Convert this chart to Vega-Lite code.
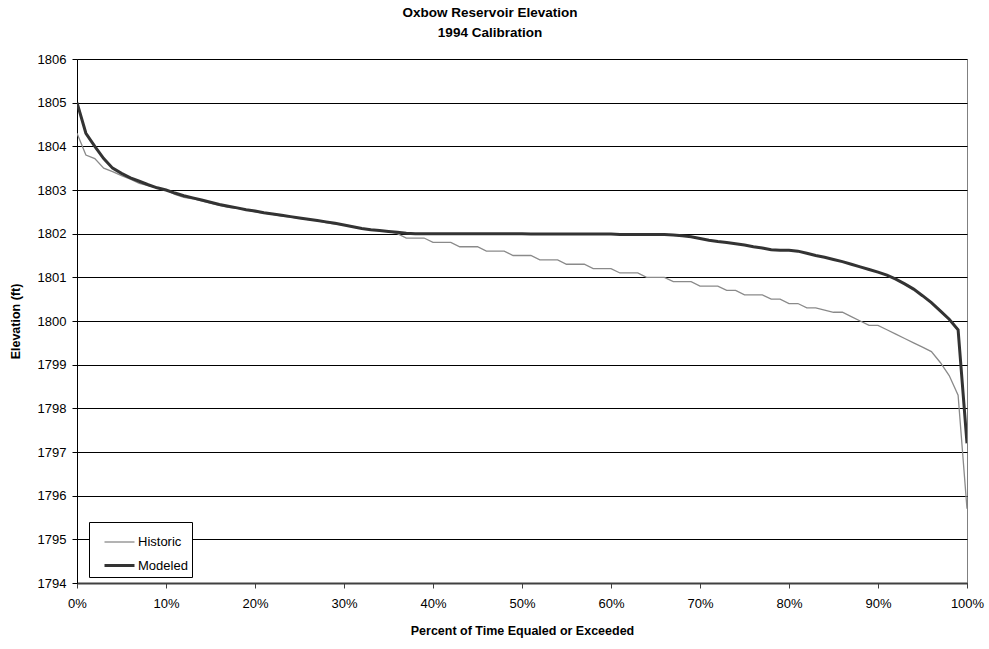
{
  "$schema": "https://vega.github.io/schema/vega-lite/v6.json",
  "width": 890,
  "height": 524,
  "autosize": {"type": "none"},
  "padding": {"left": 77, "top": 59, "right": 22, "bottom": 66},
  "background": "white",
  "title": {
    "text": ["Oxbow Reservoir Elevation", "1994 Calibration"],
    "font": "Liberation Sans",
    "fontSize": 13.5,
    "fontWeight": "bold",
    "color": "black",
    "anchor": "middle",
    "lineHeight": 20,
    "offset": 14,
    "dx": -32
  },
  "config": {
    "view": {"stroke": "#808080", "strokeWidth": 1},
    "axis": {
      "labelFont": "Liberation Sans",
      "titleFont": "Liberation Sans",
      "labelColor": "black",
      "titleColor": "black"
    },
    "legend": {
      "labelFont": "Liberation Sans",
      "labelFontSize": 13,
      "labelColor": "black"
    }
  },
  "data": {
    "values": [
      {"p":0,"s":"Historic","v":1804.3},{"p":1,"s":"Historic","v":1803.8},{"p":2,"s":"Historic","v":1803.72},{"p":3,"s":"Historic","v":1803.5},{"p":4,"s":"Historic","v":1803.42},{"p":5,"s":"Historic","v":1803.33},{"p":6,"s":"Historic","v":1803.25},{"p":7,"s":"Historic","v":1803.15},{"p":8,"s":"Historic","v":1803.1},{"p":9,"s":"Historic","v":1803.05},
      {"p":10,"s":"Historic","v":1803.0},{"p":11,"s":"Historic","v":1802.9},{"p":12,"s":"Historic","v":1802.83},{"p":13,"s":"Historic","v":1802.8},{"p":14,"s":"Historic","v":1802.75},{"p":15,"s":"Historic","v":1802.7},{"p":16,"s":"Historic","v":1802.65},{"p":17,"s":"Historic","v":1802.6},{"p":18,"s":"Historic","v":1802.58},{"p":19,"s":"Historic","v":1802.55},
      {"p":20,"s":"Historic","v":1802.5},{"p":21,"s":"Historic","v":1802.47},{"p":22,"s":"Historic","v":1802.44},{"p":23,"s":"Historic","v":1802.4},{"p":24,"s":"Historic","v":1802.38},{"p":25,"s":"Historic","v":1802.35},{"p":26,"s":"Historic","v":1802.32},{"p":27,"s":"Historic","v":1802.3},{"p":28,"s":"Historic","v":1802.25},{"p":29,"s":"Historic","v":1802.22},
      {"p":30,"s":"Historic","v":1802.2},{"p":31,"s":"Historic","v":1802.15},{"p":32,"s":"Historic","v":1802.12},{"p":33,"s":"Historic","v":1802.1},{"p":34,"s":"Historic","v":1802.07},{"p":35,"s":"Historic","v":1802.05},{"p":36,"s":"Historic","v":1802.0},{"p":37,"s":"Historic","v":1801.9},{"p":38,"s":"Historic","v":1801.9},{"p":39,"s":"Historic","v":1801.9},
      {"p":40,"s":"Historic","v":1801.8},{"p":41,"s":"Historic","v":1801.8},{"p":42,"s":"Historic","v":1801.8},{"p":43,"s":"Historic","v":1801.7},{"p":44,"s":"Historic","v":1801.7},{"p":45,"s":"Historic","v":1801.7},{"p":46,"s":"Historic","v":1801.6},{"p":47,"s":"Historic","v":1801.6},{"p":48,"s":"Historic","v":1801.6},{"p":49,"s":"Historic","v":1801.5},
      {"p":50,"s":"Historic","v":1801.5},{"p":51,"s":"Historic","v":1801.5},{"p":52,"s":"Historic","v":1801.4},{"p":53,"s":"Historic","v":1801.4},{"p":54,"s":"Historic","v":1801.4},{"p":55,"s":"Historic","v":1801.3},{"p":56,"s":"Historic","v":1801.3},{"p":57,"s":"Historic","v":1801.3},{"p":58,"s":"Historic","v":1801.2},{"p":59,"s":"Historic","v":1801.2},
      {"p":60,"s":"Historic","v":1801.2},{"p":61,"s":"Historic","v":1801.1},{"p":62,"s":"Historic","v":1801.1},{"p":63,"s":"Historic","v":1801.1},{"p":64,"s":"Historic","v":1801.0},{"p":65,"s":"Historic","v":1801.0},{"p":66,"s":"Historic","v":1801.0},{"p":67,"s":"Historic","v":1800.9},{"p":68,"s":"Historic","v":1800.9},{"p":69,"s":"Historic","v":1800.9},
      {"p":70,"s":"Historic","v":1800.8},{"p":71,"s":"Historic","v":1800.8},{"p":72,"s":"Historic","v":1800.8},{"p":73,"s":"Historic","v":1800.7},{"p":74,"s":"Historic","v":1800.7},{"p":75,"s":"Historic","v":1800.6},{"p":76,"s":"Historic","v":1800.6},{"p":77,"s":"Historic","v":1800.6},{"p":78,"s":"Historic","v":1800.5},{"p":79,"s":"Historic","v":1800.5},
      {"p":80,"s":"Historic","v":1800.4},{"p":81,"s":"Historic","v":1800.4},{"p":82,"s":"Historic","v":1800.3},{"p":83,"s":"Historic","v":1800.3},{"p":84,"s":"Historic","v":1800.25},{"p":85,"s":"Historic","v":1800.2},{"p":86,"s":"Historic","v":1800.2},{"p":87,"s":"Historic","v":1800.1},{"p":88,"s":"Historic","v":1800.0},{"p":89,"s":"Historic","v":1799.9},
      {"p":90,"s":"Historic","v":1799.9},{"p":91,"s":"Historic","v":1799.8},{"p":92,"s":"Historic","v":1799.7},{"p":93,"s":"Historic","v":1799.6},{"p":94,"s":"Historic","v":1799.5},{"p":95,"s":"Historic","v":1799.4},{"p":96,"s":"Historic","v":1799.3},{"p":97,"s":"Historic","v":1799.05},{"p":98,"s":"Historic","v":1798.75},{"p":99,"s":"Historic","v":1798.3},
      {"p":100,"s":"Historic","v":1795.7},
      {"p":0,"s":"Modeled","v":1805.0},{"p":1,"s":"Modeled","v":1804.3},{"p":2,"s":"Modeled","v":1804.0},{"p":3,"s":"Modeled","v":1803.72},{"p":4,"s":"Modeled","v":1803.5},{"p":5,"s":"Modeled","v":1803.38},{"p":6,"s":"Modeled","v":1803.28},{"p":7,"s":"Modeled","v":1803.2},{"p":8,"s":"Modeled","v":1803.12},{"p":9,"s":"Modeled","v":1803.05},
      {"p":10,"s":"Modeled","v":1803.0},{"p":11,"s":"Modeled","v":1802.93},{"p":12,"s":"Modeled","v":1802.87},{"p":13,"s":"Modeled","v":1802.82},{"p":14,"s":"Modeled","v":1802.77},{"p":15,"s":"Modeled","v":1802.72},{"p":16,"s":"Modeled","v":1802.67},{"p":17,"s":"Modeled","v":1802.63},{"p":18,"s":"Modeled","v":1802.59},{"p":19,"s":"Modeled","v":1802.55},
      {"p":20,"s":"Modeled","v":1802.52},{"p":21,"s":"Modeled","v":1802.48},{"p":22,"s":"Modeled","v":1802.45},{"p":23,"s":"Modeled","v":1802.42},{"p":24,"s":"Modeled","v":1802.39},{"p":25,"s":"Modeled","v":1802.36},{"p":26,"s":"Modeled","v":1802.33},{"p":27,"s":"Modeled","v":1802.3},{"p":28,"s":"Modeled","v":1802.27},{"p":29,"s":"Modeled","v":1802.24},
      {"p":30,"s":"Modeled","v":1802.2},{"p":31,"s":"Modeled","v":1802.16},{"p":32,"s":"Modeled","v":1802.12},{"p":33,"s":"Modeled","v":1802.09},{"p":34,"s":"Modeled","v":1802.07},{"p":35,"s":"Modeled","v":1802.05},{"p":36,"s":"Modeled","v":1802.03},{"p":37,"s":"Modeled","v":1802.01},{"p":38,"s":"Modeled","v":1802.0},{"p":39,"s":"Modeled","v":1802.0},
      {"p":40,"s":"Modeled","v":1802.0},{"p":41,"s":"Modeled","v":1802.0},{"p":42,"s":"Modeled","v":1802.0},{"p":43,"s":"Modeled","v":1802.0},{"p":44,"s":"Modeled","v":1802.0},{"p":45,"s":"Modeled","v":1802.0},{"p":46,"s":"Modeled","v":1802.0},{"p":47,"s":"Modeled","v":1802.0},{"p":48,"s":"Modeled","v":1802.0},{"p":49,"s":"Modeled","v":1802.0},
      {"p":50,"s":"Modeled","v":1802.0},{"p":51,"s":"Modeled","v":1801.99},{"p":52,"s":"Modeled","v":1801.99},{"p":53,"s":"Modeled","v":1801.99},{"p":54,"s":"Modeled","v":1801.99},{"p":55,"s":"Modeled","v":1801.99},{"p":56,"s":"Modeled","v":1801.99},{"p":57,"s":"Modeled","v":1801.99},{"p":58,"s":"Modeled","v":1801.99},{"p":59,"s":"Modeled","v":1801.99},
      {"p":60,"s":"Modeled","v":1801.99},{"p":61,"s":"Modeled","v":1801.98},{"p":62,"s":"Modeled","v":1801.98},{"p":63,"s":"Modeled","v":1801.98},{"p":64,"s":"Modeled","v":1801.98},{"p":65,"s":"Modeled","v":1801.98},{"p":66,"s":"Modeled","v":1801.98},{"p":67,"s":"Modeled","v":1801.97},{"p":68,"s":"Modeled","v":1801.95},{"p":69,"s":"Modeled","v":1801.93},
      {"p":70,"s":"Modeled","v":1801.89},{"p":71,"s":"Modeled","v":1801.85},{"p":72,"s":"Modeled","v":1801.82},{"p":73,"s":"Modeled","v":1801.8},{"p":74,"s":"Modeled","v":1801.77},{"p":75,"s":"Modeled","v":1801.74},{"p":76,"s":"Modeled","v":1801.7},{"p":77,"s":"Modeled","v":1801.67},{"p":78,"s":"Modeled","v":1801.63},{"p":79,"s":"Modeled","v":1801.62},
      {"p":80,"s":"Modeled","v":1801.62},{"p":81,"s":"Modeled","v":1801.6},{"p":82,"s":"Modeled","v":1801.55},{"p":83,"s":"Modeled","v":1801.5},{"p":84,"s":"Modeled","v":1801.46},{"p":85,"s":"Modeled","v":1801.41},{"p":86,"s":"Modeled","v":1801.36},{"p":87,"s":"Modeled","v":1801.3},{"p":88,"s":"Modeled","v":1801.24},{"p":89,"s":"Modeled","v":1801.18},
      {"p":90,"s":"Modeled","v":1801.12},{"p":91,"s":"Modeled","v":1801.05},{"p":92,"s":"Modeled","v":1800.96},{"p":93,"s":"Modeled","v":1800.85},{"p":94,"s":"Modeled","v":1800.73},{"p":95,"s":"Modeled","v":1800.58},{"p":96,"s":"Modeled","v":1800.42},{"p":97,"s":"Modeled","v":1800.23},{"p":98,"s":"Modeled","v":1800.04},{"p":99,"s":"Modeled","v":1799.8},
      {"p":100,"s":"Modeled","v":1797.2}
    ]
  },
  "mark": {"type": "line", "clip": true},
  "encoding": {
    "x": {
      "field": "p",
      "type": "quantitative",
      "scale": {"domain": [0, 100], "nice": false, "zero": false},
      "axis": {
        "title": "Percent of Time Equaled or Exceeded",
        "titleFontSize": 12.5,
        "titleFontWeight": "bold",
        "titlePadding": 14,
        "values": [0, 10, 20, 30, 40, 50, 60, 70, 80, 90, 100],
        "labelExpr": "datum.value + '%'",
        "labelFontSize": 13,
        "labelPadding": 9,
        "labelFlush": false,
        "tickSize": 5,
        "tickColor": "#404040",
        "domainColor": "#404040",
        "domainWidth": 2,
        "grid": false
      }
    },
    "y": {
      "field": "v",
      "type": "quantitative",
      "scale": {"domain": [1794, 1806], "nice": false, "zero": false},
      "axis": {
        "title": "Elevation (ft)",
        "titleFontSize": 12.5,
        "titleFontWeight": "bold",
        "titlePadding": 15,
        "values": [1794, 1795, 1796, 1797, 1798, 1799, 1800, 1801, 1802, 1803, 1804, 1805, 1806],
        "format": "d",
        "labelFontSize": 13,
        "labelPadding": 6,
        "tickSize": 5,
        "tickColor": "black",
        "domainColor": "black",
        "grid": true,
        "gridColor": "black",
        "gridWidth": 1
      }
    },
    "color": {
      "field": "s",
      "type": "nominal",
      "scale": {"domain": ["Historic", "Modeled"], "range": ["#8a8a8a", "#333333"]},
      "legend": {
        "title": null,
        "orient": "none",
        "legendX": 12,
        "legendY": 463,
        "symbolType": "stroke",
        "symbolSize": 900,
        "symbolOffset": 10,
        "strokeColor": "black",
        "fillColor": "white",
        "padding": 4,
        "rowPadding": 0,
        "labelOffset": 2,
        "labelLimit": 300
      }
    },
    "strokeWidth": {
      "field": "s",
      "type": "nominal",
      "scale": {"domain": ["Historic", "Modeled"], "range": [1.3, 3]},
      "legend": null
    }
  }
}
